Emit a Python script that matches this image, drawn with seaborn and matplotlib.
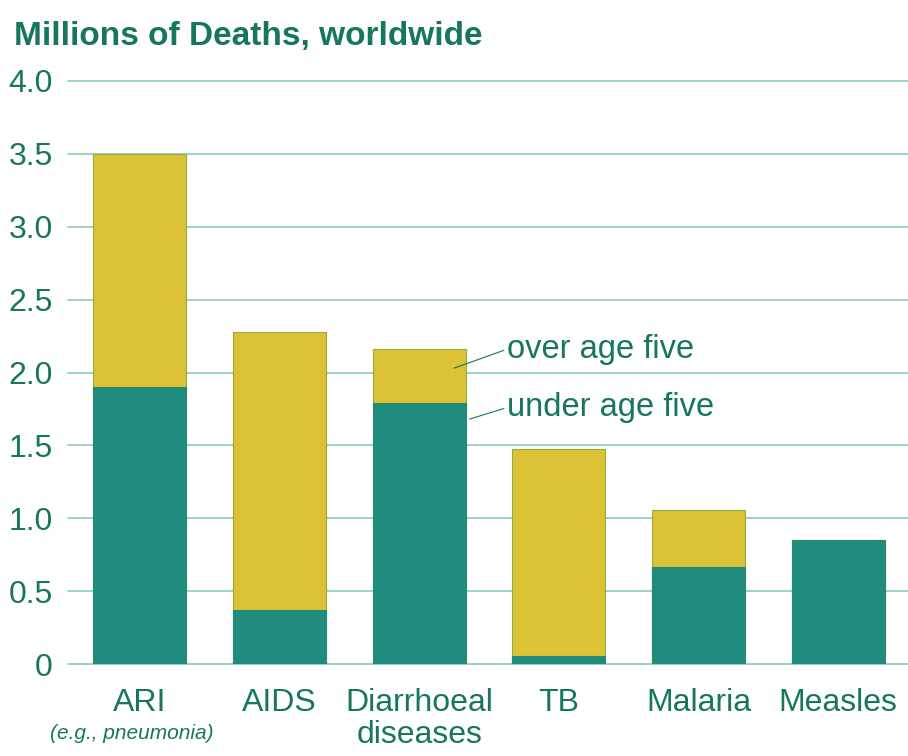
import matplotlib
matplotlib.use("Agg")
import matplotlib.pyplot as plt
import seaborn as sns
import pandas as pd
import numpy as np

categories = ["ARI", "AIDS", "Diarrhoeal\ndiseases", "TB", "Malaria", "Measles"]
under_five = [1.9, 0.37, 1.79, 0.055, 0.665, 0.85]
totals = [3.5, 2.28, 2.16, 1.475, 1.06, 0.85]
yticks = [0, 0.5, 1.0, 1.5, 2.0, 2.5, 3.0, 3.5, 4.0]
ytick_labels = ["0", "0.5", "1.0", "1.5", "2.0", "2.5", "3.0", "3.5", "4.0"]

sns.set_theme(style="white")
plt.rcParams["font.family"] = ["Liberation Sans", "DejaVu Sans"]

TEAL = "#1f8c7e"
YELLOW = "#dcc236"
TEXT = "#17765e"
GRID = "#86cbc4"

df = pd.DataFrame({"category": categories, "total": totals, "under": under_five})

fig = plt.figure(figsize=(9.08, 7.56), dpi=100)
ax = fig.add_axes([68 / 908, 1 - 664 / 756, 1 - 68 / 908, (664 - 81) / 756])

sns.barplot(data=df, x="category", y="total", color=YELLOW, width=0.665,
            saturation=1, ax=ax, edgecolor="#8fae3a", linewidth=0.8, zorder=2)
sns.barplot(data=df, x="category", y="under", color=TEAL, width=0.665,
            saturation=1, ax=ax, edgecolor="#2a8a6e", linewidth=0.8, zorder=3)

ax.set_ylim(0, 4.0)
ax.set_xlim(-0.514, 5.5)
ax.set_yticks(yticks)
ax.set_yticklabels(ytick_labels)
ax.yaxis.grid(True, color=GRID, linewidth=1.2, zorder=0)
for gl in ax.get_ygridlines():
    gl.set_clip_on(False)
ax.set_axisbelow(True)
for s in ax.spines.values():
    s.set_visible(False)
ax.tick_params(axis="y", length=0, pad=11, labelsize=23, labelcolor=TEXT)
ax.tick_params(axis="x", length=0, pad=17, labelsize=23, labelcolor=TEXT)
ax.set_xlabel("")
ax.set_ylabel("")
ax.set_xticks(range(len(categories)))
ax.set_xticklabels(categories, linespacing=1.12)

ax.text(-0.06, -0.48, "(e.g., pneumonia)", ha="center", va="center", fontsize=15,
        style="italic", color=TEXT)

fig.text(14 / 908, 1 - 36 / 756, "Millions of Deaths, worldwide", ha="left",
         va="center", fontsize=24, fontweight="bold", color=TEXT)

ax.annotate("over age five", xy=(2.25, 2.03), xytext=(2.63, 2.16),
            fontsize=23.5, color=TEXT, va="center", ha="left",
            arrowprops=dict(arrowstyle="-", color=TEXT, lw=0.8,
                            shrinkA=0, shrinkB=0, relpos=(0, 0.5)))
ax.annotate("under age five", xy=(2.36, 1.68), xytext=(2.63, 1.76),
            fontsize=23.5, color=TEXT, va="center", ha="left",
            arrowprops=dict(arrowstyle="-", color=TEXT, lw=0.8,
                            shrinkA=0, shrinkB=0, relpos=(0, 0.5)))

fig.savefig("out.png", dpi=100, facecolor="white")
